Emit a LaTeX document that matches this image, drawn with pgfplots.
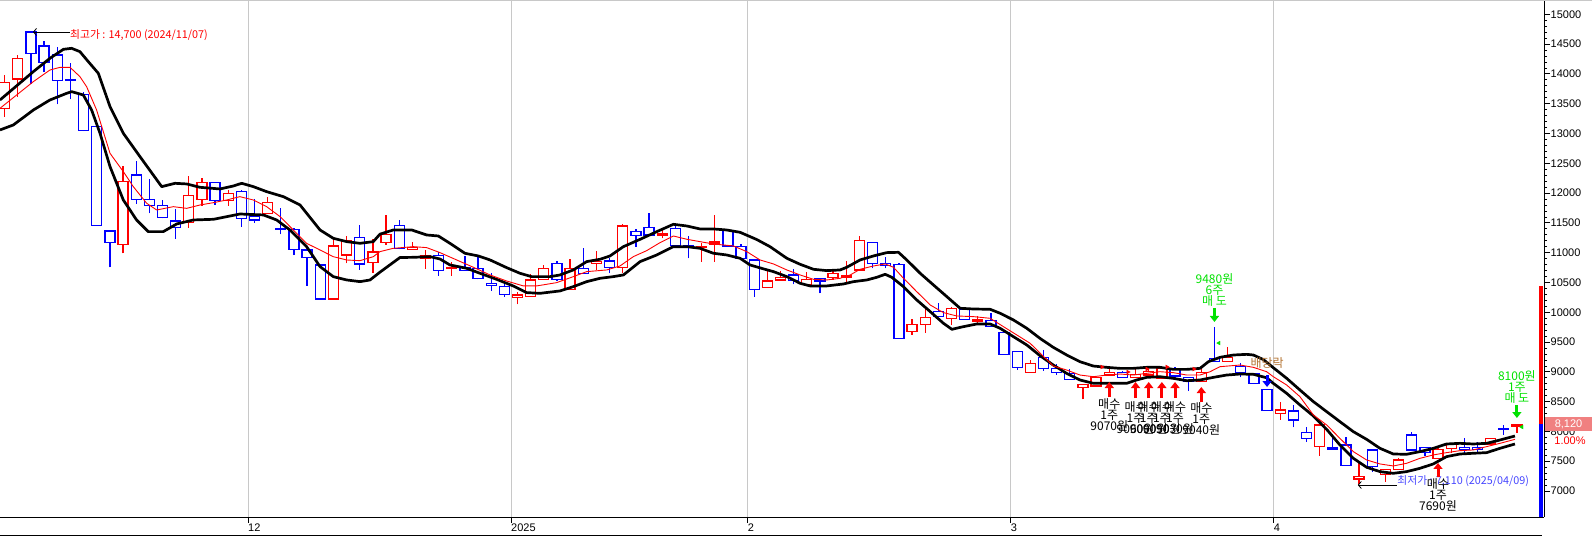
\documentclass[border=0pt]{standalone}
\usepackage{fontspec}
\setmainfont{Liberation Sans}
\newfontfamily\kr{Noto Sans CJK KR}
\usepackage{pgfplots}
\pgfplotsset{compat=1.18}
\usepackage{pgfplotstable}
\usetikzlibrary{arrows.meta}

\definecolor{cred}{RGB}{255,0,0}
\definecolor{cblue}{RGB}{0,0,255}
\definecolor{cgreen}{RGB}{0,225,0}
\definecolor{gridgray}{RGB}{200,200,200}
\definecolor{pricebox}{RGB}{240,128,128}
\definecolor{lowblue}{RGB}{70,70,255}
\definecolor{divcol}{RGB}{180,115,50}

% candles: i = trading day (0 = 2024/11/07), o h l c
\pgfplotstableread{
i o h l c
-2 13421 13981 13281 13858
-1 13913 14316 13617 14260
7 11139 12454 10988 12191
12 11508 12291 11419 11961
13 11894 12247 11783 12180
15 11878 12051 11788 11995
18 11659 11939 11659 11844
23 10222 11223 10215 11111
24 10960 11279 10821 11195
26 10837 11223 10664 11011
27 11173 11632 11128 11307
29 11056 11173 11056 11089
30 10910 11045 10726 10943
32 10731 10849 10614 10754
37 10250 10334 10133 10289
38 10261 10636 10261 10541
39 10552 10793 10552 10737
41 10384 10888 10384 10737
43 10821 11028 10709 10849
45 10754 11475 10664 11447
48 11285 11408 11240 11313
51 11095 11168 10849 11105
52 11145 11632 10849 11179
56 10418 10709 10418 10524
57 10541 10698 10541 10586
59 10468 10681 10468 10552
61 10580 10720 10541 10653
62 10580 10860 10485 10608
63 10709 11279 10709 11207
67 9674 9881 9618 9797
68 9797 10049 9657 9915
70 9898 10094 9786 10066
72 9853 9937 9797 9881
76 8992 9199 8992 9143
80 8740 8790 8538 8790
81 8762 8902 8762 8902
82 8946 9058 8946 8991
84 8907 9041 8891 8958
85 8946 9058 8946 9002
86 8891 9075 8891 9058
89 8835 9058 8835 8991
91 9170 9422 9170 9243
95 8304 8500 8192 8360
98 7744 8181 7588 8108
101 7202 7465 7110 7241
103 7280 7364 7157 7364
104 7364 7549 7364 7521
107 7549 7756 7549 7700
108 7716 7789 7644 7789
111 7789 7884 7789 7884
113 8090 8120 7979 8120
}\redcandles

\pgfplotstableread{
i o h l c
0 14700 14700 13824 14344
1 14467 14551 14037 14193
2 14316 14445 13488 13891
3 13900 14176 13572 13891
4 13656 13701 13040 13052
5 13119 13130 11450 11458
6 11363 11370 10753 11173
8 12303 12538 11816 11894
9 11894 12230 11659 11794
10 11794 11883 11576 11587
11 11531 11732 11234 11419
14 12180 12185 11799 11878
16 12029 12051 11436 11576
17 11615 11894 11503 11548
19 11400 11743 11307 11391
20 11391 11413 10960 11055
21 11044 11050 10440 10921
22 10793 10800 10205 10222
25 11257 11464 10709 10809
28 11458 11548 11056 11072
31 10955 11017 10614 10703
33 10748 10944 10703 10703
34 10737 10921 10552 10569
35 10485 10664 10357 10452
36 10429 10474 10261 10301
40 10821 10860 10530 10552
42 10737 11072 10653 10653
44 10860 10916 10653 10754
46 11352 11391 11100 11285
47 11425 11660 11296 11296
49 11408 11464 11117 11117
50 11117 11280 10905 11100
53 11369 11380 11111 11111
54 11106 11145 10905 10905
55 10877 10880 10261 10384
58 10625 10720 10468 10530
60 10569 10569 10317 10524
64 11173 11173 10737 10821
65 10821 10921 10737 10787
66 10804 10832 9562 9562
69 10015 10161 9926 9926
71 10049 10049 9870 9881
73 9859 9982 9758 9758
74 9663 9663 9294 9294
75 9339 9339 9031 9070
77 9243 9367 9020 9059
78 9059 9126 8947 8992
79 8974 9041 8874 8874
83 8985 9019 8902 8902
87 9047 9075 8891 8930
88 8907 8919 8678 8846
90 9226 9746 9170 9170
92 9086 9142 8907 8991
93 8974 8974 8807 8807
94 8706 8706 8348 8348
96 8343 8444 8069 8192
97 7979 8080 7828 7884
99 7720 7884 7700 7700
100 7772 7901 7426 7426
102 7689 7689 7325 7409
105 7940 7996 7689 7689
106 7733 7733 7588 7644
109 7733 7884 7644 7700
110 7733 7828 7633 7700
112 8040 8108 7940 8035
}\bluecandles

\pgfplotsset{
  chartbase/.style={
    scale only axis, width=1544pt, height=516pt,
    xmin=-2.357, xmax=115.06, ymin=6564, ymax=15222,
    at={(0pt,0pt)}, anchor=south west,
  },
  overlayaxis/.style={chartbase, hide axis},
}

\begin{document}
\begin{tikzpicture}
\useasboundingbox (0pt,-20pt) rectangle (1592pt,517pt);

% frame, ticks, grid and wicks
\begin{axis}[chartbase,
  axis x line*=bottom, axis y line*=right,
  axis line style={black, line width=0.9pt},
  tick align=outside,
  xtick={16.5,36.5,54.5,74.5,94.5},
  xticklabels={12,2025,2,3,4},
  xmajorgrids, major grid style={gridgray, line width=0.9pt},
  ytick={7000,7500,...,15000},
  minor y tick num=4,
  scaled y ticks=false,
  major tick length=6pt, minor tick length=3pt,
  tick style={black, line width=0.7pt},
  /pgf/number format/1000 sep={},
  /pgf/number format/assume math mode=true,
  ticklabel style={font=\fontsize{11}{13}\selectfont},
  xticklabel style={anchor=north west, inner sep=0pt, yshift=-1pt},
  yticklabel style={anchor=west, inner sep=0pt, xshift=0.5pt},
]
\addplot[draw=none, mark=none, error bars/.cd, y dir=plus, y explicit,
  error mark=none, error bar style={draw=cblue, line width=1.3pt}]
  table[x=i, y=l, y error expr=\thisrow{h}-\thisrow{l}] \bluecandles;
\addplot[draw=none, mark=none, error bars/.cd, y dir=plus, y explicit,
  error mark=none, error bar style={draw=cred, line width=1.3pt}]
  table[x=i, y=l, y error expr=\thisrow{h}-\thisrow{l}] \redcandles;
\end{axis}

% falling candle bodies
\begin{axis}[overlayaxis, ybar stacked, bar width=10pt]
\addplot[draw=none, fill=none] table[x=i, y=c] \bluecandles;
\addplot[draw=cblue, fill=white, line width=1.3pt]
  table[x=i, y expr=\thisrow{o}-\thisrow{c}] \bluecandles;
\end{axis}

% rising candle bodies
\begin{axis}[overlayaxis, ybar stacked, bar width=10pt]
\addplot[draw=none, fill=none] table[x=i, y=o] \redcandles;
\addplot[draw=cred, fill=white, line width=1.3pt]
  table[x=i, y expr=\thisrow{c}-\thisrow{o}] \redcandles;
\end{axis}

% bands, average and trade marks
\begin{axis}[overlayaxis, clip=false]
\addplot[black, line width=2.7pt, line join=round] coordinates {
(-2.36,13561) (0.18,14037) (1.44,14260) (2.46,14411) (3.09,14428) (3.72,14372)
(4.36,14204) (5.12,14009) (6.01,13449) (7.02,13002) (8.29,12610) (9.94,12107)
(10.95,12163) (11.84,12152) (12.85,12096) (14.37,12068) (15.39,12118) (16.02,12163)
(16.91,12107) (17.92,12023) (19.19,11939) (20.46,11799) (21.98,11380) (22.99,11240)
(24.01,11184) (25.02,11156) (26.03,11184) (26.54,11310) (27.55,11380) (28.95,11380)
(30.09,11296) (30.98,11279) (31.86,11156) (33.0,10989) (34.02,10944) (34.91,10877)
(36.17,10748) (37.19,10653) (38.07,10597) (39.47,10597) (40.23,10625) (41.24,10709)
(42.26,10849) (43.27,10888) (44.03,10944) (45.05,11100) (46.32,11223) (47.59,11352)
(48.85,11475) (49.87,11447) (50.88,11397) (51.89,11397) (52.9,11380) (53.92,11341)
(55.19,11220) (56.2,11100) (57.48,10905) (58.49,10804) (59.51,10720) (60.52,10698)
(61.53,10709) (62.04,10754) (63.05,10877) (64.07,10944) (65.08,11000) (65.97,11005)
(66.6,10877) (67.62,10653) (68.63,10457) (69.65,10261) (70.66,10066) (71.67,10054)
(72.94,10049) (73.7,9982) (74.71,9870) (75.73,9730) (76.74,9560) (77.74,9411)
(78.76,9282) (79.77,9170) (80.79,9097) (81.8,9075) (82.81,9058) (83.83,9058)
(84.84,9075) (85.86,9075) (86.87,9041) (87.89,9041) (88.9,9058) (89.54,9170)
(90.42,9243) (91.44,9282) (92.45,9293) (92.96,9282) (93.72,9205) (94.47,9070)
(95.49,8891) (96.5,8695) (97.52,8500) (98.53,8332) (99.54,8164) (100.56,7996)
(101.57,7867) (102.59,7716) (103.6,7621) (104.61,7616) (105.63,7661) (106.64,7716)
(107.65,7789) (108.67,7800) (109.68,7789) (110.7,7800) (111.71,7856) (112.85,7923)
};
\addplot[black, line width=2.7pt, line join=round] coordinates {
(-2.36,13058) (-1.34,13142) (0.18,13393) (1.44,13561) (2.71,13673) (3.09,13701)
(3.98,13645) (4.61,13393) (5.25,13002) (6.01,12443) (7.02,11883) (8.03,11548)
(8.92,11352) (10.06,11352) (11.08,11481) (12.35,11548) (13.87,11559) (15.89,11648)
(17.67,11632) (18.68,11548) (19.69,11380) (20.96,11100) (21.98,10765) (22.99,10597)
(24.01,10541) (25.02,10513) (25.78,10541) (26.54,10672) (28.06,10918) (29.08,10921)
(30.34,10933) (31.1,10893) (31.86,10793) (33.13,10737) (34.15,10653) (35.41,10552)
(36.68,10440) (37.69,10329) (38.71,10317) (40.23,10357) (41.24,10429) (42.26,10513)
(43.27,10569) (44.29,10597) (45.05,10625) (46.32,10849) (47.59,10961) (48.85,11100)
(49.87,11100) (50.88,11072) (51.89,10989) (52.9,10961) (53.92,10905) (54.68,10793)
(55.69,10728) (56.46,10681) (57.48,10597) (58.49,10485) (59.25,10441) (60.52,10441)
(61.79,10474) (62.55,10513) (63.56,10541) (64.32,10586) (64.96,10636) (65.46,10586)
(66.35,10429) (67.36,10206) (68.38,10010) (69.39,9814) (70.03,9713) (70.91,9758)
(71.93,9803) (72.94,9803) (73.7,9730) (74.71,9590) (75.73,9450) (76.74,9270)
(77.74,9114) (78.76,8974) (79.77,8863) (80.79,8807) (81.8,8807) (83.32,8807)
(84.08,8863) (84.84,8907) (85.86,8918) (86.87,8890) (87.89,8851) (88.9,8863)
(89.92,8907) (90.93,8946) (91.95,8963) (92.96,8958) (93.97,8900) (94.47,8807)
(95.49,8639) (96.5,8444) (97.52,8259) (98.53,8035) (99.54,7772) (100.56,7549)
(101.57,7398) (102.59,7325) (103.6,7297) (104.61,7325) (105.63,7381) (106.64,7454)
(107.65,7577) (108.67,7621) (109.68,7633) (110.7,7644) (111.71,7716) (112.85,7789)
};
\addplot[cred, line width=0.9pt, line join=round] coordinates {
(-2.36,13421) (-1.09,13645) (0.18,13869) (1.44,14064) (2.21,14109) (2.97,14109)
(3.72,13953) (4.23,13785) (4.99,13393) (6.01,12666) (7.02,12359) (7.78,12107)
(8.80,11827) (9.56,11715) (10.82,11771) (11.84,11743) (12.85,11799) (13.87,11838)
(14.88,11883) (15.89,11939) (16.91,11883) (17.92,11771) (18.94,11604) (19.95,11380)
(20.96,11156) (21.98,11044) (22.99,10932) (24.01,10876) (25.02,10865) (26.03,10932)
(26.54,11017) (27.55,11072) (29.08,11100) (30.09,11084) (31.1,11000) (32.37,10877)
(33.64,10754) (34.91,10625) (36.17,10524) (37.44,10441) (38.45,10441) (39.97,10496)
(41.24,10597) (42.26,10681) (43.78,10709) (44.79,10776) (45.81,10933) (46.82,11033)
(47.84,11168) (48.85,11279) (49.87,11224) (50.88,11184) (51.89,11145) (53.41,11112)
(54.43,11017) (55.44,10877) (56.46,10810) (57.48,10709) (58.49,10625) (59.51,10552)
(60.52,10541) (61.53,10569) (62.3,10625) (63.05,10720) (64.07,10776) (64.96,10810)
(65.59,10754) (66.35,10569) (67.36,10345) (68.38,10122) (69.39,9993) (70.4,9937)
(71.67,9926) (72.94,9898) (73.95,9758) (74.97,9618) (75.98,9479) (76.99,9260)
(77.74,9098) (78.76,9030) (79.77,8946) (80.79,8918) (81.8,8946) (82.81,8963)
(83.83,8946) (84.84,8974) (85.86,9002) (86.87,8986) (87.89,8946) (88.9,8946)
(89.67,9002) (90.42,9086) (91.95,9114) (92.96,9075) (93.97,9002) (94.47,8919)
(95.49,8779) (96.5,8583) (97.52,8276) (98.53,8108) (99.54,7884) (100.56,7661)
(101.57,7521) (102.59,7454) (103.6,7420) (104.61,7465) (105.63,7549) (106.64,7605)
(107.65,7644) (108.67,7677) (109.68,7689) (110.7,7745) (111.71,7800) (112.85,7867)
};
% signal flags
\addplot[only marks, mark=triangle*, mark size=2.2pt, cred, mark options={rotate=-90}]
  coordinates {(81.44,9081) (83.42,8997) (84.87,9047) (86.39,9081) (88.44,9047)};
\addplot[only marks, mark=triangle*, mark size=2.2pt, cgreen, mark options={rotate=90}]
  coordinates {(90.34,9483) (113.38,8074)};

% high / low
\draw[black, line width=0.8pt, {Straight Barb[length=3pt,width=7pt]}-]
  (axis cs:0.15,14702) -- (axis cs:2.97,14702);
\node[anchor=west, inner sep=0pt, text=cred, font=\kr\fontsize{10.8}{12}\selectfont]
  at (axis cs:2.97,14652) {최고가 : 14,700 (2024/11/07)};
\draw[black, line width=0.8pt, {Straight Barb[length=3pt,width=7pt]}-]
  (axis cs:100.9,7101) -- (axis cs:103.9,7101);
\node[anchor=west, inner sep=0pt, text=lowblue, font=\kr\fontsize{10.8}{12}\selectfont]
  at (axis cs:103.9,7168) {최저가 : 7,110 (2025/04/09)};

% buys
\tikzset{buyarrow/.style={cred, line width=3pt, -{Triangle[width=9pt,length=6pt]}},
  selarrow/.style={cgreen, line width=3pt, -{Triangle[width=9pt,length=6pt]}},
  tradetext/.style={align=center, inner sep=0pt, font=\kr\fontsize{12}{11}\selectfont}}
\draw[buyarrow] (axis cs:82,8577) -- (axis cs:82,8829);
\draw[buyarrow] (axis cs:84,8560) -- (axis cs:84,8829);
\draw[buyarrow] (axis cs:85,8560) -- (axis cs:85,8829);
\draw[buyarrow] (axis cs:86,8560) -- (axis cs:86,8829);
\draw[buyarrow] (axis cs:87,8560) -- (axis cs:87,8829);
\draw[buyarrow] (axis cs:89,8493) -- (axis cs:89,8745);
\draw[buyarrow] (axis cs:107,7235) -- (axis cs:107,7470);
\node[tradetext, anchor=north] at (axis cs:82,8560) {매수\\1주\\9070원};
\node[tradetext, anchor=north] at (axis cs:84,8510) {매수\\1주\\9060원};
\node[tradetext, anchor=north] at (axis cs:85,8510) {매수\\1주\\9000원};
\node[tradetext, anchor=north] at (axis cs:86,8510) {매수\\1주\\9050원};
\node[tradetext, anchor=north] at (axis cs:87,8510) {매수\\1주\\9030원};
\node[tradetext, anchor=north] at (axis cs:89,8493) {매수\\1주\\9040원};
\node[tradetext, anchor=north] at (axis cs:107,7218) {매수\\1주\\7690원};

% sells
\draw[selarrow] (axis cs:90,10071) -- (axis cs:90,9836);
\node[tradetext, text=cgreen, anchor=south] at (axis cs:90,10088) {9480원\\6주\\매 도};
\draw[selarrow] (axis cs:113,8443) -- (axis cs:113,8225);
\node[tradetext, text=cgreen, anchor=south] at (axis cs:113,8460) {8100원\\1주\\매 도};

% ex-dividend
\draw[cblue, line width=3pt, -{Triangle[width=9pt,length=6pt]}]
  (axis cs:94,8946) -- (axis cs:94,8745);
\node[inner sep=0pt, text=divcol, font=\kr\fontsize{12}{12}\selectfont]
  at (axis cs:94,9148) {배당락};
\end{axis}

% top and bottom rules, price strip and last price
\draw[gridgray, line width=1pt] (0pt,516pt) -- (1592pt,516pt);
\draw[black, line width=1pt] (0pt,-19pt) -- (1542pt,-19pt);
\fill[cred] (1539.3pt,231pt) rectangle (1543.2pt,92.8pt);
\fill[cblue] (1539.3pt,92.8pt) rectangle (1543.2pt,0pt);
\node[fill=pricebox, text=white, minimum width=47pt, minimum height=14pt, inner sep=0pt,
  font=\fontsize{11}{12}\selectfont] at (1568.5pt,92.8pt) {8,120};
\node[text=cred, inner sep=0pt, font=\fontsize{11}{12}\selectfont] at (1570pt,76pt) {1.00\%};
\end{tikzpicture}
\end{document}
